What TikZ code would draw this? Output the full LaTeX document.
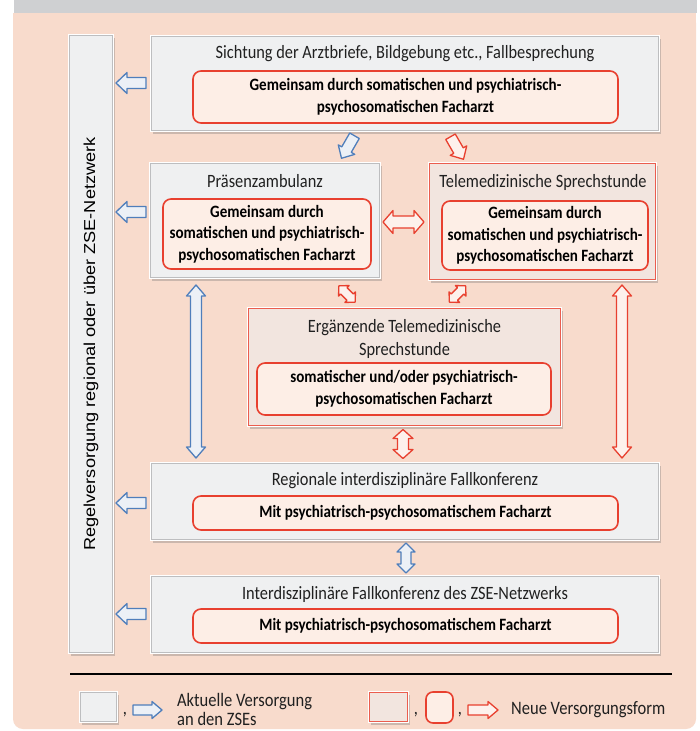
\documentclass[tikz,border=0pt]{standalone}
\usepackage{fontspec}
\setmainfont{Carlito}
\newfontfamily\arialfont{Liberation Sans}
\usetikzlibrary{shadows,calc}
\definecolor{peach}{HTML}{F8DBCC}
\definecolor{bandgray}{HTML}{CFD0D2}
\definecolor{boxgray}{HTML}{EFF0F1}
\definecolor{newfill}{HTML}{F2E5DF}
\definecolor{innerfill}{HTML}{FDEEE6}
\definecolor{redline}{HTML}{E8402F}
\definecolor{arrblue}{HTML}{4F7EBB}
\definecolor{arrbluefill}{HTML}{ECF0F6}
\definecolor{arrredfill}{HTML}{FDF1EC}
\definecolor{bevelgray}{HTML}{BDBEC0}
\definecolor{textdark}{HTML}{202020}
\newcommand\mybevel[2]{\draw[#2] ([shift={(2pt,-2pt)}]#1.north west) rectangle ([shift={(-2pt,2pt)}]#1.south east);}
% single block arrow: style, x, y, angle, length, head width, shaft width, head length
\newcommand\sarrow[8]{\draw[#1,shift={(#2,#3)},rotate=#4]
  ({-#5/2},{-#7/2}) -- ({#5/2-#8},{-#7/2}) -- ({#5/2-#8},{-#6/2}) -- ({#5/2},0)
  -- ({#5/2-#8},{#6/2}) -- ({#5/2-#8},{#7/2}) -- ({-#5/2},{#7/2}) -- cycle;}
% double block arrow
\newcommand\darrow[8]{\draw[#1,shift={(#2,#3)},rotate=#4]
  ({-#5/2},0) -- ({-#5/2+#8},{#6/2}) -- ({-#5/2+#8},{#7/2}) -- ({#5/2-#8},{#7/2})
  -- ({#5/2-#8},{#6/2}) -- ({#5/2},0) -- ({#5/2-#8},{-#6/2}) -- ({#5/2-#8},{-#7/2})
  -- ({-#5/2+#8},{-#7/2}) -- ({-#5/2+#8},{-#6/2}) -- cycle;}
\begin{document}
\begin{tikzpicture}[x=1pt,y=-1pt,
  shad/.style={drop shadow={shadow xshift=2pt,shadow yshift=-2.5pt,opacity=0.3,fill=black!60}},
  gbox/.style={rectangle,fill=boxgray,draw=white,line width=2.5pt,inner sep=0pt,shad},
  nbox/.style={rectangle,fill=newfill,draw=white,line width=2.5pt,inner sep=0pt,shad},
  ibox/.style={rectangle,rounded corners=8pt,fill=innerfill,draw=redline,line width=1.6pt,inner sep=0pt},
  itxt/.style={inner sep=0pt,align=center,text=black,xscale=0.87,font=\bfseries\fontsize{17.3}{21.5}\selectfont},
  ttl/.style={inner sep=0pt,align=center,text=textdark,xscale=0.87,font=\fontsize{18.8}{23}\selectfont},
  blueA/.style={draw=arrblue,fill=arrbluefill,line width=1.3pt,line join=round},
  redA/.style={draw=redline,fill=arrredfill,line width=1.3pt,line join=round},
  bev/.style={draw=bevelgray,line width=0.7pt},
  rbev/.style={draw=redline!85,line width=1.2pt},
  lgd/.style={inner sep=0pt,align=left,text=textdark,xscale=0.87,font=\fontsize{19}{19}\selectfont}
]
\useasboundingbox (0,0) rectangle (699,731);
\fill[white] (0,0) rectangle (699,731);
\fill[bandgray] (14,0) rectangle (697,13);
\fill[peach,rounded corners=10pt] (13,13) rectangle (696,729);
\fill[peach] (13,13) rectangle (696,60);

% left column
\node[gbox,minimum width=44pt,minimum height=618pt] (col) at (91,344) {};
\mybevel{col}{bev}
\node[rotate=90,yscale=0.87,inner sep=0pt,text=black,font=\arialfont\fontsize{18.2}{20}\selectfont] (coltext) at (col.center) {Regelversorgung regional oder über ZSE-Netzwerk};

% box 1
\node[gbox,minimum width=508pt,minimum height=95pt] (b1) at (405,83.5) {};
\mybevel{b1}{bev}
\node[ttl] (t1) at (405,54) {Sichtung der Arztbriefe, Bildgebung etc., Fallbesprechung};
\node[ibox,minimum width=425pt,minimum height=52pt] (i1) at (405.5,97) {};
\node[itxt] (i1t) at (i1.center) {Gemeinsam durch somatischen und psychiatrisch-\\psychosomatischen Facharzt};

% box 2
\node[gbox,minimum width=230pt,minimum height=115pt] (b2) at (265,220.5) {};
\mybevel{b2}{bev}
\node[ttl] (t2) at (265,181) {Präsenzambulanz};
\node[ibox,minimum width=208pt,minimum height=70pt] (i2) at (267,234) {};
\node[itxt] (i2t) at (i2.center) {Gemeinsam durch\\somatischen und psychiatrisch-\\psychosomatischen Facharzt};

% box 3
\node[nbox,minimum width=227pt,minimum height=117pt] (b3) at (542.5,221.5) {};
\mybevel{b3}{rbev}
\node[ttl] (t3) at (543,182) {Telemedizinische Sprechstunde};
\node[ibox,minimum width=206pt,minimum height=69pt] (i3) at (545,235.5) {};
\node[itxt] (i3t) at (i3.center) {Gemeinsam durch\\somatischen und psychiatrisch-\\psychosomatischen Facharzt};

% box 4
\node[nbox,minimum width=313pt,minimum height=118pt] (b4) at (404.5,367) {};
\mybevel{b4}{rbev}
\node[ttl] (t4) at (404.5,338.5) {Ergänzende Telemedizinische\\Sprechstunde};
\node[ibox,minimum width=294pt,minimum height=52pt] (i4) at (404,389) {};
\node[itxt] (i4t) at (i4.center) {somatischer und/oder psychiatrisch-\\psychosomatischen Facharzt};

% box 5
\node[gbox,minimum width=508pt,minimum height=77pt] (b5) at (405,501.5) {};
\mybevel{b5}{bev}
\node[ttl] (t5) at (405,481) {Regionale interdisziplinäre Fallkonferenz};
\node[ibox,minimum width=425pt,minimum height=34pt] (i5) at (405.5,513) {};
\node[itxt] (i5t) at (i5.center) {Mit psychiatrisch-psychosomatischem Facharzt};

% box 6
\node[gbox,minimum width=508pt,minimum height=77pt] (b6) at (405,614.5) {};
\mybevel{b6}{bev}
\node[ttl] (t6) at (405,594) {Interdisziplinäre Fallkonferenz des ZSE-Netzwerks};
\node[ibox,minimum width=425pt,minimum height=34pt] (i6) at (405.5,626) {};
\node[itxt] (i6t) at (i6.center) {Mit psychiatrisch-psychosomatischem Facharzt};

% arrows to left column
\sarrow{blueA}{131}{83}{180}{30}{21}{11}{11}
\sarrow{blueA}{131}{212}{180}{30}{21}{11}{11}
\sarrow{blueA}{131}{503}{180}{30}{21}{11}{11}
\sarrow{blueA}{131}{614}{180}{30}{21}{11}{11}

% arrows between boxes
\sarrow{blueA}{348}{147}{240}{26}{19}{11}{10}
\sarrow{redA}{457}{148}{300}{26}{19}{11}{10}
\darrow{redA}{403.5}{222}{0}{41}{23}{12}{10}
\darrow{redA}{347}{294}{-45}{23}{15}{9}{7}
\darrow{redA}{457.5}{294}{45}{23}{15}{9}{7}
\darrow{blueA}{196}{371.5}{90}{173}{19}{11}{11}
\darrow{redA}{622}{371.5}{90}{173}{19}{11}{11}
\darrow{redA}{403}{444}{90}{29}{20}{11}{9}
\darrow{blueA}{406}{558}{90}{30}{18}{10}{9}

% legend
\draw[black,line width=2.5pt] (70,674) -- (672,674);
\node[gbox,minimum width=37pt,minimum height=30pt] (lg1) at (98.5,707) {};
\mybevel{lg1}{bev}
\node[lgd,anchor=base] (c1) at (125,714) {,};
\sarrow{blueA}{147.5}{710}{0}{29}{17}{10}{10}
\node[lgd,anchor=west] (lt1) at (177,709) {Aktuelle Versorgung\\an den ZSEs};
\node[nbox,minimum width=39pt,minimum height=30pt] (lg2) at (388.5,707) {};
\mybevel{lg2}{rbev}
\node[lgd,anchor=base] (c2) at (416,714) {,};
\node[ibox,minimum width=27pt,minimum height=31pt,rounded corners=7pt] (lg3) at (439.5,707.5) {};
\node[lgd,anchor=base] (c3) at (460,714) {,};
\sarrow{redA}{483}{710}{0}{30}{17}{10}{10}
\node[lgd,anchor=west] (lt2) at (511,710) {Neue Versorgungsform};
\end{tikzpicture}
\end{document}
